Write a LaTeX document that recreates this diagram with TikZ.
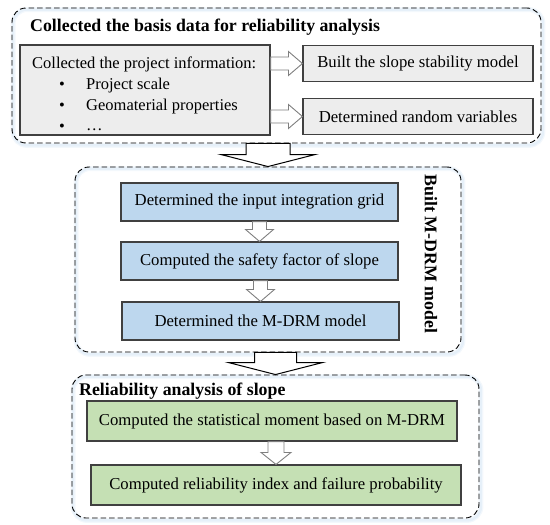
\documentclass[tikz,border=0pt]{standalone}
\usepackage{fontspec}
\setmainfont{Liberation Serif}
\usetikzlibrary{calc,backgrounds}
\definecolor{graybox}{HTML}{EDEDED}
\definecolor{bluebox}{HTML}{BDD7EE}
\definecolor{greenbox}{HTML}{C5E0B4}
\definecolor{edgecol}{HTML}{404040}
\definecolor{glowcol}{HTML}{9DC3E6}
\definecolor{arrowgray}{HTML}{7F7F7F}
\tikzset{
  groupbox/.style={draw=black, line width=0.9pt, dash pattern=on 5.5pt off 3pt, rounded corners=14pt, inner sep=0pt},
  glowwide/.style={draw=glowcol, line width=5pt, opacity=0.12, rounded corners=14pt},
  glownarrow/.style={draw=glowcol, line width=2.5pt, opacity=0.15, rounded corners=14pt},
  procbox/.style={draw=edgecol, line width=1.1pt, inner sep=0pt, font=\fontsize{16.7}{18}\selectfont, align=center},
  graystep/.style={procbox, fill=graybox},
  bluestep/.style={procbox, fill=bluebox},
  greenstep/.style={procbox, fill=greenbox},
  titletext/.style={font=\fontsize{17.8}{20}\bfseries\selectfont, inner sep=0pt},
  bodytext/.style={font=\fontsize{16.5}{18}\selectfont, inner sep=0pt},
  hollowsmall/.style={draw=arrowgray, fill=white, line width=0.9pt},
  hollowbig/.style={draw=black, fill=white, line width=1pt},
}
% hollow arrow pointing down: style, from, to, half shaft, half head, head length
\newcommand\hdown[6]{\draw[#1] ($(#2)+(-#4,0)$) -- ($(#3)+(-#4,-#6)$) -- ($(#3)+(-#5,-#6)$) -- (#3) -- ($(#3)+(#5,-#6)$) -- ($(#3)+(#4,-#6)$) -- ($(#2)+(#4,0)$) -- cycle;}
% hollow arrow pointing right
\newcommand\hright[6]{\draw[#1] ($(#2)+(0,-#4)$) -- ($(#3)+(-#6,-#4)$) -- ($(#3)+(-#6,-#5)$) -- (#3) -- ($(#3)+(-#6,#5)$) -- ($(#3)+(-#6,#4)$) -- ($(#2)+(0,#4)$) -- cycle;}
\begin{document}
\begin{tikzpicture}[x=1pt,y=-1pt]
\useasboundingbox (0,0) rectangle (550,525);
% group boxes
\node[groupbox, minimum width=529pt, minimum height=135pt] (grp1) at (276.5,75.5) {};
\node[groupbox, minimum width=386pt, minimum height=185pt] (grp2) at (268,259.5) {};
\node[groupbox, minimum width=407pt, minimum height=143pt] (grp3) at (275.5,446.5) {};
\begin{scope}[on background layer]
  \foreach \g in {grp1,grp2,grp3}{
    \draw[glowwide] ($(\g.north west)+(1.5,2)$) rectangle ($(\g.south east)+(1.5,2)$);
    \draw[glownarrow] ($(\g.north west)+(1.5,2)$) rectangle ($(\g.south east)+(1.5,2)$);
  }
\end{scope}
% group 1
\node[titletext, anchor=base west] (t1) at (30,31) {Collected the basis data for reliability analysis};
\node[graystep, minimum width=250pt, minimum height=90pt] (info) at (145,90) {};
\node[bodytext, anchor=base west] (infohead) at (32,68) {Collected the project information:};
\node[bodytext, anchor=base] (b1) at (62,89) {\textbullet};
\node[bodytext, anchor=base] (b2) at (62,110) {\textbullet};
\node[bodytext, anchor=base] (b3) at (62,131) {\textbullet};
\node[bodytext, anchor=base west] (i1) at (86,89) {Project scale};
\node[bodytext, anchor=base west] (i2) at (86,110) {Geomaterial properties};
\node[bodytext, anchor=base west] (i3) at (86,130) {…};
\node[graystep, minimum width=230pt, minimum height=36pt] (model) at (418,63.5) {Built the slope stability model};
\node[graystep, minimum width=230pt, minimum height=36pt] (rv) at (418,116.5) {Determined random variables};
\coordinate (s1) at (info.east |- model.west);
\coordinate (s2) at (info.east |- rv.west);
\hright{hollowsmall}{s1}{model.west}{6.5}{12}{14}
\hright{hollowsmall}{s2}{rv.west}{6.5}{12}{14}
% big arrow 1
\coordinate (ba1) at (grp2.north |- grp1.south);
\hdown{hollowbig}{ba1}{grp2.north}{22}{47}{12}
% group 2
\node[bluestep, minimum width=277pt, minimum height=38pt] (grid) at (259.5,202) {Determined the input integration grid};
\node[bluestep, minimum width=277pt, minimum height=38pt] (sf) at (259.5,261) {Computed the safety factor of slope};
\node[bluestep, minimum width=277pt, minimum height=38pt] (mdrm) at (260.5,321) {Determined the M-DRM model};
\node[titletext, rotate=-90] (t2) at (431,254) {Built M-DRM model};
\coordinate (a1) at (sf.north |- grid.south);
\coordinate (a2) at (mdrm.north |- sf.south);
\hdown{hollowsmall}{a1}{sf.north}{7}{14}{12}
\hdown{hollowsmall}{a2}{mdrm.north}{7}{14}{12}
% big arrow 2
\coordinate (ba2) at (grp3.north |- grp2.south);
\hdown{hollowbig}{ba2}{grp3.north}{21}{47}{12}
% group 3
\node[titletext, anchor=base west] (t3) at (79,395) {Reliability analysis of slope};
\node[greenstep, minimum width=370pt, minimum height=40pt] (moment) at (272,421) {Computed the statistical moment based on M-DRM};
\node[greenstep, minimum width=370pt, minimum height=40pt] (pf) at (276,485) {Computed reliability index and failure probability};
\coordinate (a3) at (pf.north |- moment.south);
\hdown{hollowsmall}{a3}{pf.north}{8}{15}{12}
\end{tikzpicture}
\end{document}
